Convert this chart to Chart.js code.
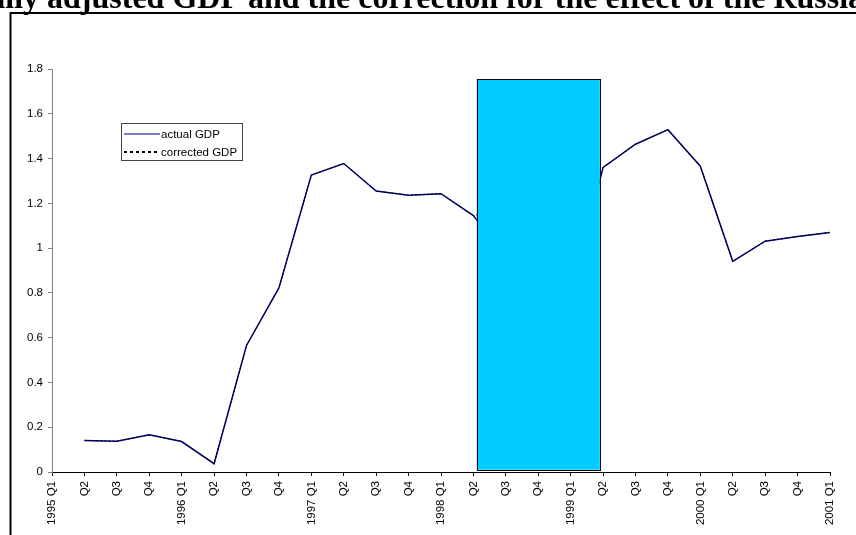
<!DOCTYPE html>
<html>
<head>
<meta charset="utf-8">
<script src="https://cdn.jsdelivr.net/npm/chart.js@4.4.1/dist/chart.umd.min.js"></script>
<style>
  html, body { margin: 0; padding: 0; background: #fff; }
  #wrap { width: 856px; height: 535px; position: relative; }
</style>
</head>
<body>
<div id="wrap"><canvas id="gdp" width="856" height="535"></canvas></div>
<script>
// Quarterly axis, 1995 Q1 .. 2001 Q1
const quarters = [
  '1995 Q1', 'Q2', 'Q3', 'Q4',
  '1996 Q1', 'Q2', 'Q3', 'Q4',
  '1997 Q1', 'Q2', 'Q3', 'Q4',
  '1998 Q1', 'Q2', 'Q3', 'Q4',
  '1999 Q1', 'Q2', 'Q3', 'Q4',
  '2000 Q1', 'Q2', 'Q3', 'Q4',
  '2001 Q1'
];

// Seasonally adjusted GDP, actual path
const actualGDP = [
  null, 0.141, 0.137, 0.166,
  0.136, 0.037, 0.565, 0.822,
  1.326, 1.378, 1.255, 1.236,
  1.243, 1.145, 0.95, 0.86,
  0.80, 1.36, 1.464, 1.529,
  1.366, 0.941, 1.031, 1.052,
  1.07
];

// GDP corrected for the effect of the Russian crisis
const correctedGDP = [
  null, 0.141, 0.137, 0.166,
  0.136, 0.037, 0.565, 0.822,
  1.326, 1.378, 1.255, 1.236,
  1.243, 1.145, 1.18, 1.22,
  1.26, 1.36, 1.464, 1.529,
  1.366, 0.941, 1.031, 1.052,
  1.07
];

// Crisis window (quarter index range) and its value band
const crisisQuarters = [13.1, 16.9];
const crisisBand = [0.01, 1.755];

const yTicks = [0, 0.2, 0.4, 0.6, 0.8, 1, 1.2, 1.4, 1.6, 1.8];
const titleText = 'Seasonally adjusted GDP and the correction for the effect of the Russian crisis';

const FONT = 'Liberation Sans, Arial, sans-serif';

const framePlugin = {
  id: 'frame',
  beforeDraw(chart) {
    const ctx = chart.ctx;
    ctx.save();
    ctx.fillStyle = '#fff';
    ctx.fillRect(0, 0, chart.width, chart.height);
    ctx.strokeStyle = '#000';
    ctx.lineWidth = 2;
    ctx.beginPath();
    ctx.moveTo(10.5, chart.height);
    ctx.lineTo(10.5, 13);
    ctx.lineTo(chart.width, 13);
    ctx.stroke();
    ctx.restore();
  },
  afterDraw(chart) {
    const ctx = chart.ctx;
    ctx.save();
    ctx.fillStyle = '#000';
    ctx.font = 'bold 32px "Liberation Serif", "Times New Roman", serif';
    ctx.textAlign = 'center';
    ctx.textBaseline = 'alphabetic';
    ctx.fillText(titleText, chart.width / 2, 8);
    ctx.restore();
  }
};

const crisisPlugin = {
  id: 'crisis',
  afterDatasetsDraw(chart) {
    const { ctx, scales: { x, y } } = chart;
    const x0 = x.getPixelForValue(crisisQuarters[0]);
    const x1 = x.getPixelForValue(crisisQuarters[1]);
    const y0 = y.getPixelForValue(crisisBand[0]);
    const y1 = y.getPixelForValue(crisisBand[1]);
    ctx.save();
    ctx.fillStyle = '#00CCFF';
    ctx.fillRect(x0, y1, x1 - x0, y0 - y1);
    ctx.strokeStyle = '#000';
    ctx.lineWidth = 1;
    ctx.strokeRect(Math.round(x0) + 0.5, Math.round(y1) + 0.5, Math.round(x1 - x0), Math.round(y0 - y1));
    ctx.restore();
  }
};

const legendPlugin = {
  id: 'boxLegend',
  afterDraw(chart) {
    const ctx = chart.ctx;
    const left = 121.5, top = 123.5, w = 121, h = 37;
    ctx.save();
    ctx.fillStyle = '#fff';
    ctx.fillRect(left, top, w, h);
    ctx.strokeStyle = '#444';
    ctx.lineWidth = 1;
    ctx.strokeRect(left, top, w, h);
    const rows = [chart.data.datasets[0], chart.data.datasets[1]];
    rows.forEach((ds, i) => {
      const cy = 134 + i * 18;
      ctx.beginPath();
      ctx.strokeStyle = ds.borderColor;
      ctx.lineWidth = i === 0 ? 1.2 : 2;
      ctx.setLineDash(i === 0 ? [] : [3, 3]);
      ctx.moveTo(124, cy);
      ctx.lineTo(160, cy);
      ctx.stroke();
      ctx.setLineDash([]);
      ctx.fillStyle = '#000';
      ctx.font = '11.5px ' + FONT;
      ctx.textAlign = 'left';
      ctx.textBaseline = 'middle';
      ctx.fillText(ds.label, 161, cy + 0.5);
    });
    ctx.restore();
  }
};

new Chart(document.getElementById('gdp'), {
  type: 'line',
  data: {
    labels: quarters,
    datasets: [
      {
        label: 'actual GDP',
        data: actualGDP,
        borderColor: '#000080',
        borderWidth: 1.5,
        pointRadius: 0,
        tension: 0,
        order: 2
      },
      {
        label: 'corrected GDP',
        data: correctedGDP,
        borderColor: '#000000',
        borderWidth: 1,
        borderDash: [2, 2],
        pointRadius: 0,
        tension: 0,
        order: 1
      }
    ]
  },
  options: {
    responsive: false,
    animation: false,
    devicePixelRatio: 1,
    layout: { padding: { left: 0, right: 26, top: 69, bottom: 0 } },
    plugins: {
      legend: { display: false },
      title: { display: false },
      tooltip: { enabled: false }
    },
    scales: {
      x: {
        type: 'category',
        offset: false,
        grid: { drawOnChartArea: false, drawTicks: true, tickLength: 4, color: '#000', offset: false },
        border: { color: '#000', width: 1 },
        ticks: {
          autoSkip: false,
          maxRotation: 90,
          minRotation: 90,
          padding: 5,
          color: '#000',
          font: { family: FONT, size: 11.5 }
        },
        afterFit(scale) { scale.height = 63; }
      },
      y: {
        min: 0,
        max: 1.8,
        grid: { drawOnChartArea: false, drawTicks: true, tickLength: 4, color: '#808080' },
        border: { color: '#808080', width: 1 },
        afterBuildTicks(scale) { scale.ticks = yTicks.map(v => ({ value: v })); },
        ticks: {
          padding: 5,
          color: '#000',
          font: { family: FONT, size: 11.5 },
          callback: v => String(Number(v.toFixed(1)))
        },
        afterFit(scale) { scale.width = 52; }
      }
    }
  },
  plugins: [framePlugin, crisisPlugin, legendPlugin]
});
</script>
</body>
</html>
